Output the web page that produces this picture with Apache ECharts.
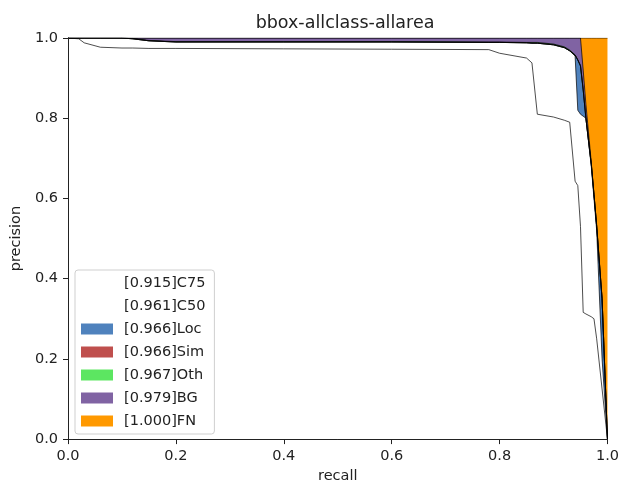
<!DOCTYPE html>
<html>
<head>
<meta charset="utf-8">
<script src="https://cdn.jsdelivr.net/npm/echarts@6/dist/echarts.min.js"></script>
<style>
  html, body { margin: 0; padding: 0; background: #fff; }
  #chart { width: 622px; height: 489px; }
</style>
</head>
<body>
<div id="chart"></div>
<script>
// PR curves per error type (precision read at each recall sample)
const recall = [0, 0.02, 0.03, 0.06, 0.1, 0.12, 0.15, 0.2, 0.4, 0.6, 0.78, 0.8, 0.85, 0.86, 0.87, 0.9, 0.92, 0.93, 0.94, 0.945, 0.95, 0.955, 0.96, 0.97, 0.975, 0.98, 0.99, 1.0];

const precC75 = [1.0, 0.998, 0.988, 0.977, 0.975, 0.975, 0.974, 0.974, 0.973, 0.972, 0.971, 0.962, 0.95, 0.938, 0.81, 0.803, 0.795, 0.79, 0.643, 0.632, 0.53, 0.316, 0.312, 0.305, 0.3, 0.25, 0.125, 0];
const precC50 = [1.0, 1.0, 1.0, 1.0, 1.0, 0.998, 0.993, 0.99, 0.99, 0.99, 0.989, 0.989, 0.988, 0.987, 0.987, 0.983, 0.976, 0.968, 0.955, 0.82, 0.81, 0.805, 0.8, 0.68, 0.6, 0.52, 0.2, 0];
const precLoc = [1.0, 1.0, 1.0, 1.0, 1.0, 0.998, 0.993, 0.99, 0.99, 0.99, 0.989, 0.989, 0.988, 0.987, 0.987, 0.983, 0.976, 0.968, 0.957, 0.945, 0.93, 0.87, 0.8, 0.685, 0.61, 0.53, 0.35, 0];
const precSim = [1.0, 1.0, 1.0, 1.0, 1.0, 0.998, 0.993, 0.99, 0.99, 0.99, 0.989, 0.989, 0.988, 0.987, 0.987, 0.983, 0.976, 0.968, 0.957, 0.945, 0.93, 0.87, 0.8, 0.685, 0.61, 0.53, 0.35, 0];
const precOth = [1.0, 1.0, 1.0, 1.0, 1.0, 0.999, 0.994, 0.991, 0.991, 0.991, 0.99, 0.99, 0.989, 0.989, 0.989, 0.985, 0.978, 0.97, 0.958, 0.946, 0.932, 0.872, 0.8, 0.685, 0.61, 0.53, 0.35, 0];
const precBG  = [1.0, 1.0, 1.0, 1.0, 1.0, 1.0, 1.0, 1.0, 1.0, 1.0, 1.0, 1.0, 1.0, 1.0, 1.0, 1.0, 1.0, 1.0, 1.0, 1.0, 1.0, 0.92, 0.835, 0.69, 0.61, 0.535, 0.35, 0];
const precFN  = [1.0, 1.0, 1.0, 1.0, 1.0, 1.0, 1.0, 1.0, 1.0, 1.0, 1.0, 1.0, 1.0, 1.0, 1.0, 1.0, 1.0, 1.0, 1.0, 1.0, 1.0, 1.0, 1.0, 1.0, 1.0, 1.0, 1.0, 1.0];

const typeNames = ['[0.915]C75', '[0.961]C50', '[0.966]Loc', '[0.966]Sim', '[0.967]Oth', '[0.979]BG', '[1.000]FN'];
const typeColors = ['#ffffff', '#ffffff', '#4f82bd', '#bf4f4d', '#5ce661', '#8063a3', '#ff9900'];
const typePrec = [precC75, precC50, precLoc, precSim, precOth, precBG, precFN];

const FONT = 'DejaVu Sans';
const TEXT = '#222';

const chart = echarts.init(document.getElementById('chart'), null, { renderer: 'canvas' });

// painter's order: FN underneath, C75 on top; each area fills from 0 up to its curve
const series = [];
for (let k = typeNames.length - 1; k >= 0; k--) {
  series.push({
    name: typeNames[k],
    type: 'line',
    data: recall.map((r, i) => [r, typePrec[k][i]]),
    symbol: 'none',
    itemStyle: { color: typeColors[k] },
    lineStyle: { color: '#000', width: 0.7 },
    areaStyle: { color: typeColors[k], opacity: 1, origin: 'start' },
    z: 2,
  });
}

const frameAxis = { show: true, lineStyle: { color: '#222', width: 1 } };

const option = {
  animation: false,
  backgroundColor: '#fff',
  title: {
    text: 'bbox-allclass-allarea',
    left: 340, textAlign: 'center', top: 9,
    textStyle: { fontFamily: FONT, fontSize: 17.5, fontWeight: 'normal', color: TEXT },
  },
  grid: { left: 68, right: 9, top: 38, bottom: 46 },
  legend: {
    orient: 'vertical',
    left: 75, top: 270,
    data: typeNames.map((n, i) => ({ name: n, itemStyle: { color: typeColors[i], borderWidth: 0 } })),
    icon: 'rect',
    itemWidth: 32, itemHeight: 11, itemGap: 7,
    padding: [5, 9, 5, 6],
    backgroundColor: 'rgba(255,255,255,0.85)',
    borderColor: '#cfcfcf', borderWidth: 1, borderRadius: 3,
    selectedMode: false,
    textStyle: { fontFamily: FONT, fontSize: 14.5, color: TEXT, lineHeight: 16, padding: [0, 0, 0, 6] },
    z: 20,
  },
  xAxis: [
    {
      type: 'value', min: 0, max: 1, interval: 0.2, position: 'bottom', z: 10,
      name: 'recall', nameLocation: 'middle', nameGap: 27,
      nameTextStyle: { fontFamily: FONT, fontSize: 14.5, color: TEXT },
      axisLine: frameAxis,
      axisTick: { show: true, length: 5, lineStyle: { color: '#222' } },
      axisLabel: { margin: 10, fontFamily: FONT, fontSize: 14.5, color: TEXT, formatter: v => v.toFixed(1), showMaxLabel: true, showMinLabel: true },
      splitLine: { show: false },
    },
    {
      type: 'value', min: 0, max: 1, position: 'top', z: 10,
      axisLine: frameAxis, axisTick: { show: false }, axisLabel: { show: false }, splitLine: { show: false },
    },
  ],
  yAxis: [
    {
      type: 'value', min: 0, max: 1, interval: 0.2, position: 'left', z: 10,
      name: 'precision', nameLocation: 'middle', nameGap: 42, nameRotate: 90,
      nameTextStyle: { fontFamily: FONT, fontSize: 14.5, color: TEXT },
      axisLine: frameAxis,
      axisTick: { show: true, length: 5, lineStyle: { color: '#222' } },
      axisLabel: { margin: 10, fontFamily: FONT, fontSize: 14.5, color: TEXT, formatter: v => v.toFixed(1) },
      splitLine: { show: false },
    },
    {
      type: 'value', min: 0, max: 1, position: 'right', z: 10,
      axisLine: frameAxis, axisTick: { show: false }, axisLabel: { show: false }, splitLine: { show: false },
    },
  ],
  series: series,
};

chart.setOption(option);
</script>
</body>
</html>
